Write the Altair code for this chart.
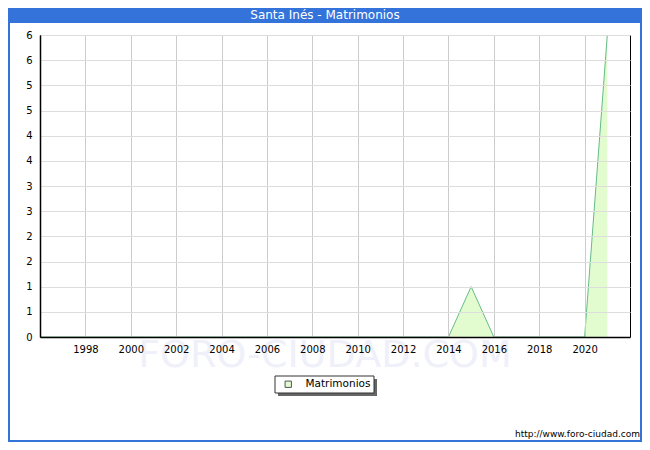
import altair as alt
import pandas as pd

years = list(range(1996, 2022))
values = [0, 0, 0, 0, 0, 0, 0, 0, 0, 0, 0, 0, 0, 0, 0, 0, 0, 0,
          0, 1, 0, 0, 0, 0, 0, 6]
series_name = "Matrimonios"
title_text = "Santa Inés - Matrimonios"
x_ticks = list(range(1998, 2021, 2))
y_ticks = [i * 0.5 for i in range(13)]

df = pd.DataFrame({"year": years, "value": values, "serie": [series_name] * len(years)})
one = pd.DataFrame({"a": [0]})

FONT = "DejaVu Sans"

x_enc = alt.X("year:Q", scale=alt.Scale(domain=[1996, 2022], nice=False, zero=False),
              axis=alt.Axis(values=x_ticks, tickCount=30, format="d", title=None, ticks=False,
                            labelPadding=7, grid=True, gridColor="#cccccc",
                            domainColor="#000000", domainWidth=1.5, zindex=1,
                            labelFontSize=10, labelFont=FONT, labelColor="#000000"))
y_enc = alt.Y("value:Q", scale=alt.Scale(domain=[0, 6], nice=False),
              axis=alt.Axis(values=y_ticks, tickCount=30, format=".0f", title=None, ticks=False,
                            labelPadding=8, grid=True, gridColor="#dddddd",
                            domainColor="#000000", domainWidth=1.5, zindex=1,
                            labelFontSize=10, labelFont=FONT, labelColor="#000000"))

watermark = alt.Chart(one).mark_text(
    text="FORO-CIUDAD.COM", font=FONT, fontSize=38, color="#f0f0fa",
    align="center", baseline="middle"
).encode(x=alt.value(285), y=alt.value(321))

area = alt.Chart(df).mark_area(opacity=1).encode(
    x=x_enc, y=y_enc,
    fill=alt.Fill("serie:N", scale=alt.Scale(range=["#e2fcd0"]),
                  legend=alt.Legend(title=None, orient="none", legendX=243, legendY=344,
                                    direction="horizontal", symbolType="square",
                                    symbolSize=40, symbolStrokeColor="#555555",
                                    symbolStrokeWidth=1, labelFontSize=10.5, labelFont=FONT,
                                    labelColor="#000000", padding=0, labelOffset=12,
                                    symbolFillColor="#d4f8b8"))
)
line = alt.Chart(df).mark_line(color="#66bb88", strokeWidth=1).encode(x="year:Q", y="value:Q")

shadow = alt.Chart(one).mark_rect(color="#666666").encode(
    x=alt.value(238), x2=alt.value(337), y=alt.value(344), y2=alt.value(361))
legend_box = alt.Chart(one).mark_rect(fill="#ffffff", stroke="#333333", strokeWidth=1).encode(
    x=alt.value(235), x2=alt.value(334), y=alt.value(341), y2=alt.value(358))

title_bar = alt.Chart(one).mark_rect(color="#3473da").encode(
    x=alt.value(-32), x2=alt.value(602), y=alt.value(-27), y2=alt.value(-12))
title = alt.Chart(one).mark_text(
    text=title_text, font=FONT, fontSize=12, color="#ffffff", align="center", baseline="middle"
).encode(x=alt.value(285), y=alt.value(-20))
border = alt.Chart(one).mark_rect(fill="transparent", stroke="#3473da", strokeWidth=2).encode(
    x=alt.value(-31), x2=alt.value(601), y=alt.value(-27), y2=alt.value(406))
footer = alt.Chart(one).mark_text(
    text="http://www.foro-ciudad.com", font=FONT, fontSize=9, color="#000000",
    align="right", baseline="middle"
).encode(x=alt.value(600), y=alt.value(399))

chart = alt.layer(watermark, shadow, legend_box, area, line, title_bar, title, border, footer).properties(
    width=590, height=302,
    autosize=alt.AutoSizeParams(type="none"),
    padding={"left": 32, "top": 27, "right": 12, "bottom": 105},
    background="#ffffff",
).configure_view(stroke="#000000", strokeWidth=1)

chart.save("out.html", embed_options={"renderer": "svg", "actions": False})
